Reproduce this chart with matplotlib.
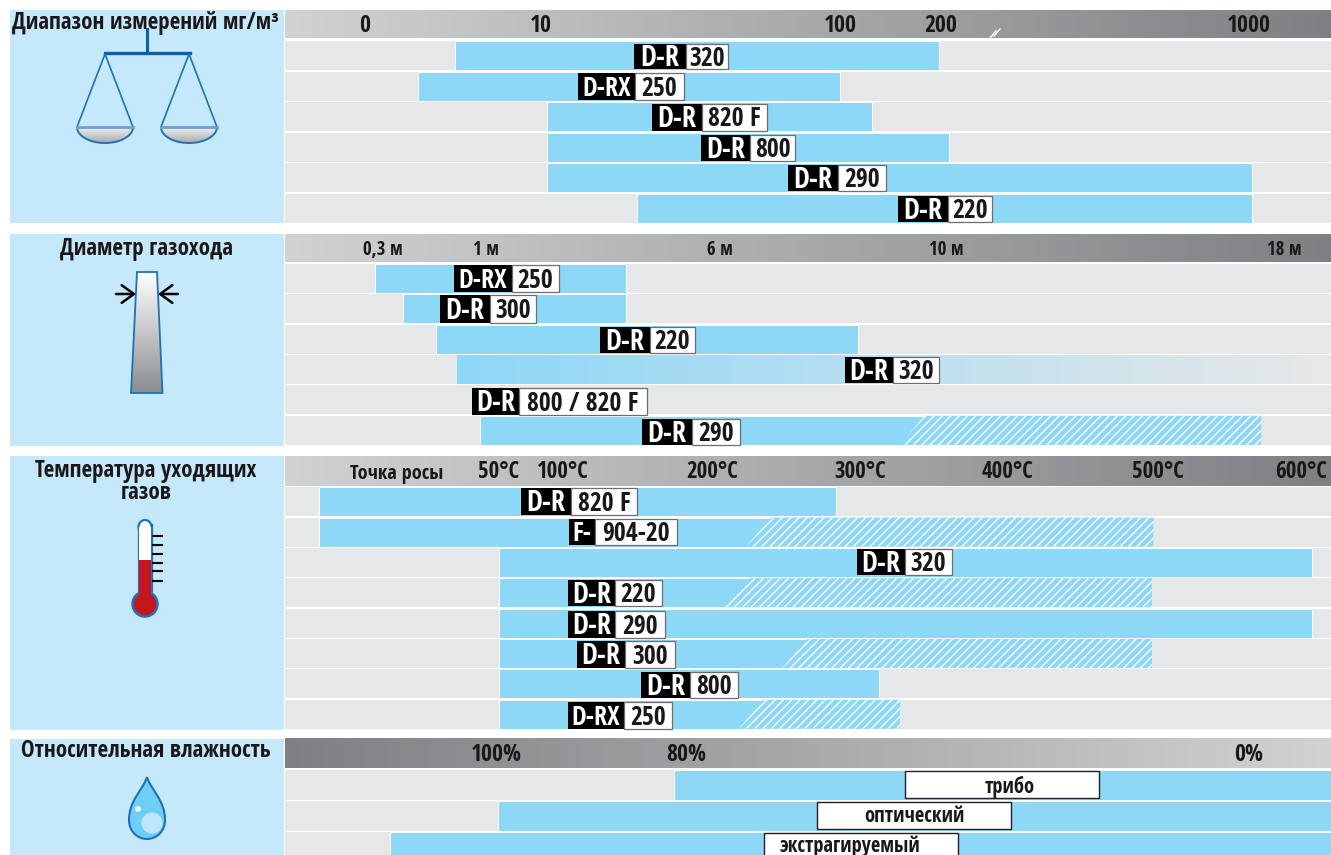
import numpy as np
import matplotlib
matplotlib.use("Agg")
import matplotlib.pyplot as plt
from matplotlib.patches import Polygon, Rectangle, Circle, PathPatch, Ellipse
from matplotlib.path import Path

plt.rcParams['font.family'] = ['Open Sans Condensed', 'Roboto Condensed', 'DejaVu Sans']
plt.rcParams['hatch.linewidth'] = 1.0

W, H = 1331, 855
BLUE, GREY, PANEL, INK = '#8DD7F7', '#E6E7E8', '#C5E8FA', '#1A1718'

# ---------- data ----------
range_ticks = [0, 10, 100, 200, 1000]
range_labels = ['0', '10', '100', '200', '1000']
range_start = [5.1, 3, 11.8, 11.8, 11.8, 39]
range_end = [198, 100, 132, 221, 1008, 1008]
range_names = [('D-R', '320'), ('D-RX', '250'), ('D-R', '820 F'), ('D-R', '800'), ('D-R', '290'), ('D-R', '220')]

diam_ticks = [0.3, 1, 6, 10, 18]
diam_labels = ['0,3 м', '1 м', '6 м', '10 м', '18 м']
diam_start = [0.245, 0.435, 0.66, 0.8, 0.96, 0.96]
diam_end = [4.0, 4.0, 8.44, 18.85, 0.96, 17.46]
diam_hatch = [None, None, None, None, None, 9.4]
diam_names = [('D-RX', '250'), ('D-R', '300'), ('D-R', '220'), ('D-R', '320'), ('D-R', '800 / 820 F'), ('D-R', '290')]

temp_ticks = [0, 50, 100, 200, 300, 400, 500, 600]
temp_labels = ['Точка росы', '50°C', '100°C', '200°C', '300°C', '400°C', '500°C', '600°C']
temp_start = [-38, -38, 50, 50, 50, 50, 50, 50]
temp_end = [284, 497, 608, 496, 608, 496, 313, 327]
temp_hatch = [None, 231.5, None, 217, None, 256, None, 226.5]
temp_names = [('D-R', '820 F'), ('F-', '904-20'), ('D-R', '320'), ('D-R', '220'), ('D-R', '290'), ('D-R', '300'), ('D-R', '800'), ('D-RX', '250')]

hum_ticks = [100, 80, 0]
hum_labels = ['100%', '80%', '0%']
hum_start = [81.3, 99.8, 111.2]
hum_end = [-11.6, -11.6, -11.6]
hum_names = ['трибо', 'оптический', 'экстрагируемый']

# ---------- layout (pixels) ----------
range_tick_px = [365, 541, 840, 941, 1249]
diam_tick_px = [383, 486, 720, 946, 1284]
temp_tick_px = [397, 499, 563, 712, 860, 1008, 1158, 1301]
hum_tick_px = [496, 686, 1249]
X0, X1 = 285, 1331

range_boxes = [(634, 686, 728, 44, 69), (578, 635, 684, 73, 100), (652, 702, 767, 104, 131),
               (701, 750, 795, 135, 161), (788, 838, 886, 165, 191), (898, 948, 992, 196, 222)]
diam_boxes = [(454, 512, 559, 265, 292), (440, 490, 536, 295, 323), (600, 650, 695, 327, 353),
              (845, 893, 939, 357, 383), (472, 519, 647, 388, 415), (642, 692, 740, 419, 445)]
temp_boxes = [(521, 571, 637, 488, 515), (569, 595, 677, 519, 545), (857, 905, 952, 549, 575),
              (568, 615, 662, 580, 606), (568, 615, 665, 611, 638), (577, 625, 675, 641, 668),
              (641, 690, 738, 672, 698), (568, 624, 672, 702, 729)]
hum_boxes = [(905, 1099, 771, 798, 1010, 784), (817, 1011, 802, 829, 914, 814), (764, 958, 833, 862, 850, 844)]

fig = plt.figure(figsize=(W / 100, H / 100), dpi=100, facecolor='white')


def px_axes(z):
    a = fig.add_axes([0, 0, 1, 1], zorder=z)
    a.set_xlim(0, W)
    a.set_ylim(H, 0)
    a.axis('off')
    a.patch.set_alpha(0)
    return a


bg = px_axes(0)
top = px_axes(5)


def hex_rgb(c):
    return np.array(matplotlib.colors.to_rgb(c))


def gradient(a, x0, x1, y0, y1, c0, c1, horizontal=True, clip=None):
    t = np.linspace(0, 1, 256)
    ramp = hex_rgb(c0)[None, :] * (1 - t)[:, None] + hex_rgb(c1)[None, :] * t[:, None]
    img = ramp[None, :, :] if horizontal else ramp[:, None, :]
    im = a.imshow(img, extent=[x0, x1, y1, y0], aspect='auto', zorder=2, interpolation='bilinear')
    if clip is not None:
        im.set_clip_path(clip)
    a.set_xlim(0, W)
    a.set_ylim(H, 0)
    return im


def panel(top_px, bot_px, tick_vals, tick_px, tick_labels, fs, pad):
    order = np.argsort(tick_px)
    p = np.array(tick_px, float)[order]
    v = np.array(tick_vals, float)[order]
    sl, sr = (v[1] - v[0]) / (p[1] - p[0]), (v[-1] - v[-2]) / (p[-1] - p[-2])
    vl = v[0] - sl * (p[0] - X0)
    vr = v[-1] + sr * (X1 - p[-1])
    P = np.r_[X0 - 2000, X0, p, X1, X1 + 2000]
    V = np.r_[vl - 2000 * sl, vl, v, vr, vr + 2000 * sr]
    if V[0] < V[-1]:
        fwd = lambda x: np.interp(x, V, P)
    else:
        fwd = lambda x: np.interp(x, V[::-1], P[::-1])
    inv = lambda x: np.interp(x, P, V)
    a = fig.add_axes([X0 / W, 1 - bot_px / H, (X1 - X0) / W, (bot_px - top_px) / H], zorder=2)
    a.set_xscale('function', functions=(fwd, inv))
    a.set_xlim(min(vl, vr), max(vl, vr))
    a.patch.set_alpha(0)
    for s in a.spines.values():
        s.set_visible(False)
    a.set_yticks([])
    a.set_xticks(tick_vals, tick_labels)
    a.minorticks_off()
    a.tick_params(axis='x', bottom=False, top=False, labelbottom=False, labeltop=True,
                  length=0, pad=pad, labelsize=fs, labelcolor=INK)
    for t in a.get_xticklabels():
        t.set_fontweight('bold')
    return a, inv


def rows(a, inv, n, starts, ends, hatches=None, skip=()):
    span = a.get_xlim()
    h = 0.955
    a.barh(np.arange(n), [span[1] - span[0]] * n, left=span[0], height=h, color=GREY, lw=0, zorder=1)
    fwd = a.xaxis.get_transform().transform
    for i in range(n):
        if i in skip or ends[i] == starts[i]:
            continue
        hv = hatches[i] if hatches else None
        if hv is None:
            a.barh(i, ends[i] - starts[i], left=starts[i], height=h, color=BLUE, edgecolor='white', lw=0.7, zorder=2)
        else:
            m = float(fwd(np.array([hv], float))[0])
            a.barh(i, inv(m + 12.5) - starts[i], left=starts[i], height=h, color=BLUE, edgecolor='white', lw=0.7, zorder=2)
            poly = [(inv(m - 12.5), i + h / 2), (inv(m + 12.5), i - h / 2), (ends[i], i - h / 2), (ends[i], i + h / 2)]
            a.add_patch(Polygon(poly, closed=True, facecolor=BLUE, edgecolor='white', hatch='////', lw=0, zorder=3))
    a.set_ylim(n - 0.5, -0.5)


# left panels and header gradients
for y0, y1 in [(10, 223.5), (234, 445.5), (456, 729.5), (739, 856)]:
    bg.add_patch(Rectangle((10, y0), 274, y1 - y0, fc=PANEL, lw=0))
for y0, y1 in [(11, 38.5), (234, 262), (456, 486)]:
    gradient(bg, X0, X1, y0, y1, '#D1D2D4', '#7F8083')
gradient(bg, X0, X1, 739, 768, '#7F8083', '#D1D2D4')
bg.plot([990, 996], [38, 31], color='white', lw=1, zorder=3)
bg.plot([994, 1000], [36, 29], color='white', lw=1, zorder=3)

# panels
ax1, inv1 = panel(40.5, 223.5, range_ticks, range_tick_px, range_labels, 17, 1.8)
rows(ax1, inv1, 6, range_start, range_end)

ax2, inv2 = panel(263, 445.5, diam_ticks, diam_tick_px, diam_labels, 13.5, 2.5)
rows(ax2, inv2, 6, diam_start, diam_end, diam_hatch, skip=(3,))
# the fading D-R 320 bar
fwd2 = ax2.xaxis.get_transform().transform
grad_px = np.linspace(fwd2(np.array([diam_start[3]]))[0], fwd2(np.array([diam_end[3]]))[0], 120)
edges = inv2(grad_px)
tt = np.linspace(0, 1, 119)
cols = hex_rgb(BLUE)[None, :] * (1 - tt)[:, None] + hex_rgb(GREY)[None, :] * tt[:, None]
ax2.pcolormesh(edges, [3 - 0.4775, 3 + 0.4775], cols[None, :, :], zorder=2, antialiased=False)
ax2.set_ylim(5.5, -0.5)

ax3, inv3 = panel(486.5, 729.5, temp_ticks, temp_tick_px, temp_labels, 16.5, 1.8)
rows(ax3, inv3, 8, temp_start, temp_end, temp_hatch)
ax3.get_xticklabels()[0].set_fontsize(14.5)

ax4, inv4 = panel(769.5, 862.5, hum_ticks, hum_tick_px, hum_labels, 17, 1.5)
rows(ax4, inv4, 3, hum_start, hum_end)


# name plates
def plate(box, name):
    a, b, c, y0, y1 = box
    top.add_patch(Rectangle((a, y0), b - a, y1 - y0, fc='black', lw=0))
    top.add_patch(Rectangle((b, y0), c - b, y1 - y0, fc='white', ec='#6D6E71', lw=0.9))
    ym = (y0 + y1) / 2 - 1.5
    fs = 20.5 if b - a > 30 and name[0] == 'D-R' else 19
    top.text((a + b) / 2, ym, name[0], color='white', fontsize=fs, fontweight='bold', ha='center', va='center_baseline')
    top.text((b + c) / 2, ym, name[1], color=INK, fontsize=18.5, fontweight='bold', ha='center', va='center_baseline')


for bx, nm in zip(range_boxes + diam_boxes + temp_boxes, range_names + diam_names + temp_names):
    plate(bx, nm)
for (a, b, y0, y1, tx, ty), nm in zip(hum_boxes, hum_names):
    top.add_patch(Rectangle((a, y0), b - a, y1 - y0, fc='white', ec='#231F20', lw=1))
    top.text(tx, ty, nm, color=INK, fontsize=14.8, fontweight='bold', ha='center', va='center_baseline')

# section titles
for x, y, s in [(146, 21, 'Диапазон измерений мг/м³'), (146, 247, 'Диаметр газохода'),
                (146, 469, 'Температура уходящих'), (146, 491, 'газов'),
                (146, 749, 'Относительная влажность')]:
    top.text(x, y - 1, s, color=INK, fontsize=16.5, fontweight='bold', ha='center', va='center_baseline')

# icon: scales
ICON = '#1F72B8'
bg.plot([147, 147], [29, 53], color='#0B5FA8', lw=2.2, zorder=4)
bg.plot([105, 190], [53, 53], color='#0B5FA8', lw=2.4, zorder=4)
for cx in (105, 189):
    bg.plot([cx - 28, cx, cx + 28], [127, 54, 127], color=ICON, lw=1.2, zorder=4)
    th = np.linspace(0, np.pi, 50)
    xs = cx + 28 * np.cos(th)
    ys = 127 + 16 * np.sin(th)
    poly = Polygon(np.c_[xs, ys], closed=True, fc='none', ec='none', transform=bg.transData)
    bg.add_patch(poly)
    gradient(bg, cx - 28, cx + 28, 127, 143, '#F2F2F2', '#A7A9AC', horizontal=False, clip=poly)
    bg.plot(xs, ys, color=ICON, lw=1.4, zorder=4)
    bg.plot([cx - 28, cx + 28], [127, 127], color='#6E9FD6', lw=2, zorder=4)

# icon: chimney
chim = [(137, 272), (157, 272), (162.5, 393), (131, 393)]
cp = Polygon(chim, closed=True, fc='none', ec='none', transform=bg.transData)
bg.add_patch(cp)
gradient(bg, 131, 163, 272, 393, '#FFFFFF', '#8A8C8E', horizontal=False, clip=cp)
bg.add_patch(Polygon(chim, closed=True, fc='none', ec=ICON, lw=1.3, zorder=4))
for a0, a1 in [(116, 136), (178, 158)]:
    bg.annotate('', xy=(a1, 294), xytext=(a0, 294),
                arrowprops=dict(arrowstyle='->,head_length=0.55,head_width=0.4', color='black', lw=1.8,
                                mutation_scale=16, shrinkA=0, shrinkB=0), zorder=5)

# icon: thermometer
bg.add_patch(Rectangle((138.5, 525), 13, 80, fc='white', ec=ICON, lw=1.6, zorder=3))
bg.add_patch(Ellipse((145, 527), 13, 14, fc='white', ec=ICON, lw=1.6, zorder=3))
bg.add_patch(Rectangle((139.3, 527), 11.4, 33, fc='white', lw=0, zorder=3.1))
bg.add_patch(Rectangle((139.3, 560), 11.4, 40, fc='#C4161C', lw=0, zorder=3.2))
bg.add_patch(Circle((145, 604), 12.5, fc='#C4161C', ec=ICON, lw=1.8, zorder=3.1))
bg.add_patch(Rectangle((139.3, 590), 11.4, 12, fc='#C4161C', lw=0, zorder=3.3))
for ty in [536, 545, 554, 563, 571, 581]:
    bg.plot([153, 162], [ty, ty], color='black', lw=1.5, zorder=3)

# icon: drop
verts = [(147, 777), (143, 790), (129, 800), (129, 820), (129, 832), (138, 839), (147, 839),
         (156, 839), (165, 832), (165, 820), (165, 800), (151, 790), (147, 777)]
codes = [Path.MOVETO] + [Path.CURVE4] * 12
bg.add_patch(PathPatch(Path(verts, codes), fc='#6DCFF6', ec=ICON, lw=1.5, zorder=3))
bg.add_patch(Circle((152, 823), 10.5, fc='#BDE8FA', lw=0, zorder=3.1))
bg.add_patch(Circle((138, 809), 3, fc='#E4F5FD', lw=0, zorder=3.1))

fig.savefig('out.png', dpi=100, facecolor='white')
